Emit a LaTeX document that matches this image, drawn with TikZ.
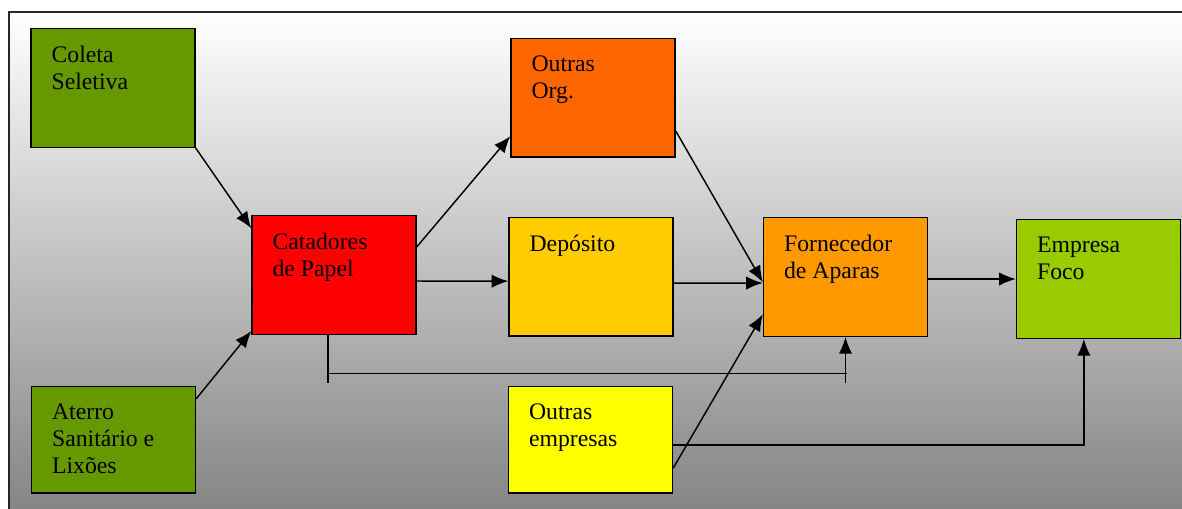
\documentclass[tikz,border=0pt]{standalone}
\usepackage{fontspec}
\setmainfont{Liberation Serif}
\usetikzlibrary{arrows.meta}

\definecolor{coletagreen}{HTML}{669900}
\definecolor{catred}{HTML}{FF0000}
\definecolor{orgorange}{HTML}{FF6600}
\definecolor{depyellow}{HTML}{FFCC00}
\definecolor{empyellow}{HTML}{FFFF00}
\definecolor{fornorange}{HTML}{FF9900}
\definecolor{focogreen}{HTML}{99CC00}

\begin{document}
\begin{tikzpicture}[
    x=0.75pt, y=-0.75pt,
    box/.style={draw, rectangle, line width=1pt, minimum width=123pt, minimum height=89pt, inner sep=0pt},
    lowbox/.style={box, minimum height=80pt},
    txt/.style={anchor=north west, inner sep=0pt, xshift=15.75pt, yshift=-13.5pt, align=left, font=\fontsize{17.8}{20.25}\selectfont},
    line/.style={line width=1.1pt},
    >={Latex[length=12.5pt,width=10pt]}
]
    % Background with gradient
    \clip (0,0) rectangle (1182,508);
    \shade[top color=white, bottom color=black!50, draw=black!85, line width=1.5pt] (9,12) rectangle (1200,530);

    % Sources
    \node[box, fill=coletagreen, label={[txt]north west:Coleta\\Seletiva}] (coleta) at (113,88) {};
    \node[lowbox, fill=coletagreen, label={[txt]north west:Aterro\\Sanitário e\\Lixões}] (aterro) at (113.5,439.5) {};

    % Collectors
    \node[box, fill=catred, label={[txt]north west:Catadores\\de Papel}] (catadores) at (334,275) {};

    % Middle column
    \node[box, fill=orgorange, label={[txt]north west:Outras\\Org.}] (outrasorg) at (593,97.5) {};
    \node[box, fill=depyellow, label={[txt]north west:Depósito}] (deposito) at (591,276.5) {};
    \node[lowbox, fill=empyellow, label={[txt]north west:Outras\\empresas}] (outrasemp) at (590.5,439.5) {};

    % Supplier and focal company
    \node[box, fill=fornorange, label={[txt]north west:Fornecedor\\de Aparas}] (fornecedor) at (845.5,277) {};
    \node[box, fill=focogreen, label={[txt]north west:Empresa\\Foco}] (foco) at (1098.5,279) {};

    % Arrows
    \draw[line, ->] (coleta.south east) -- ([yshift=-10pt]catadores.north west);
    \draw[line, ->] ([yshift=-10pt]aterro.north east) -- ([yshift=3pt]catadores.south west);
    \draw[line, ->] ([yshift=-24pt]catadores.north east) -- ([yshift=16pt]outrasorg.south west);
    \draw[line, ->] ([yshift=-4.5pt]catadores.east) -- ([yshift=-3.5pt]deposito.west);
    \draw[line, ->] ([yshift=20pt]outrasorg.south east) -- ([yshift=-4pt]fornecedor.west);
    \draw[line, ->] ([yshift=-5pt]deposito.east) -- ([yshift=-4.5pt]fornecedor.west);
    \draw[line, ->] ([yshift=19pt]outrasemp.south east) -- ([yshift=17pt]fornecedor.south west);
    \draw[line, ->] (fornecedor.east |- foco.west) -- (foco.west);

    % Bypass from collectors to supplier
    \coordinate (catdrop) at ([xshift=-4.5pt,yshift=-29pt]catadores.south);
    \coordinate (forrise) at (catdrop -| fornecedor.south);
    \draw[line] (catadores.south -| catdrop) -- ([yshift=-7pt]catdrop);
    \draw[line] (catdrop) -- ([xshift=1pt]forrise);
    \draw[line, ->] ([yshift=-7pt]forrise) -- (fornecedor.south);

    % Other companies to focal company
    \draw[line, ->] ([yshift=-4pt]outrasemp.east) -| ([xshift=-11pt]foco.south);
\end{tikzpicture}
\end{document}
